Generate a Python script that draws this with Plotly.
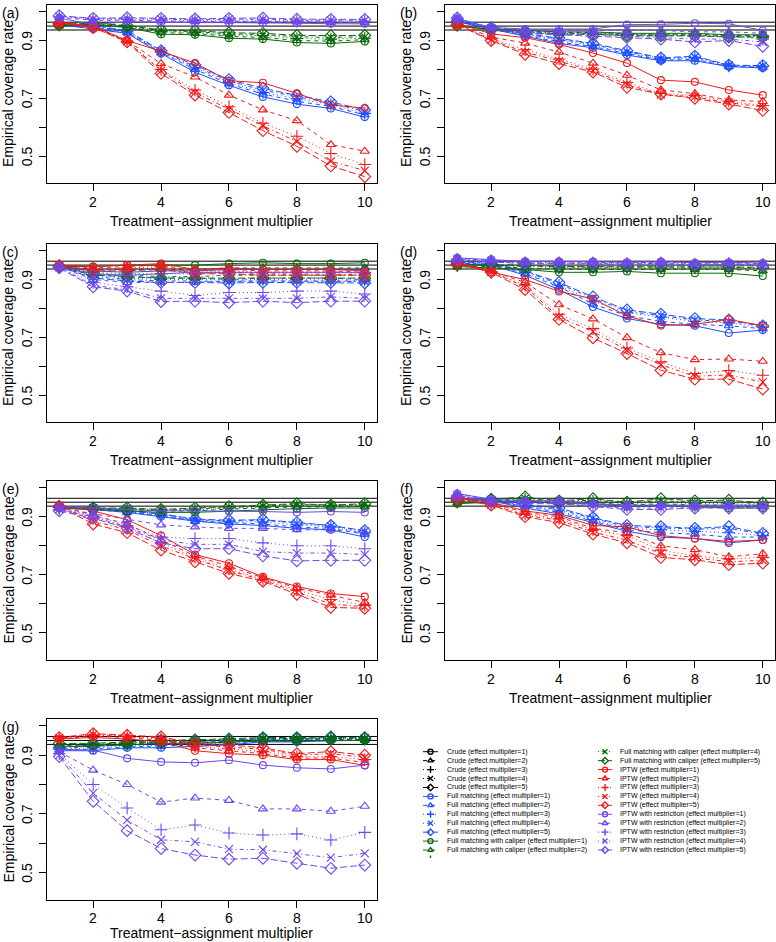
import plotly.graph_objects as go

W, H = 776, 942
X = [1, 2, 3, 4, 5, 6, 7, 8, 9, 10]
PANEL_LABELS = ["(a)", "(b)", "(c)", "(d)", "(e)", "(f)", "(g)"]
METHODS = ["Crude", "Full matching", "Full matching with caliper", "IPTW", "IPTW with restriction"]
MULTIPLIERS = [1, 2, 3, 4, 5]
REF_LINES = [0.9365, 0.95, 0.9635]
X_TICKS = [2, 4, 6, 8, 10]
Y_TICKS = [0.5, 0.6, 0.7, 0.8, 0.9, 1.0]
Y_LABELLED = [0.5, 0.7, 0.9]
X_TITLE = "Treatment\u2212assignment multiplier"
Y_TITLE = "Empirical coverage rate"

# Crude coverage lies below the plotted y range in every panel (not visible).

# ---------------- panel (a) ----------------
A_FM = [[0.955, 0.94, 0.925, 0.855, 0.79, 0.745, 0.705, 0.68, 0.665, 0.635],
        [0.955, 0.946, 0.928, 0.858, 0.80, 0.75, 0.715, 0.69, 0.672, 0.643],
        [0.957, 0.948, 0.93, 0.86, 0.805, 0.755, 0.72, 0.698, 0.678, 0.648],
        [0.958, 0.95, 0.932, 0.863, 0.81, 0.76, 0.728, 0.705, 0.684, 0.654],
        [0.96, 0.952, 0.935, 0.865, 0.815, 0.765, 0.735, 0.71, 0.688, 0.66]]
A_FMC = [[0.95, 0.955, 0.945, 0.922, 0.92, 0.908, 0.905, 0.893, 0.89, 0.897],
         [0.952, 0.956, 0.946, 0.927, 0.925, 0.914, 0.911, 0.90, 0.898, 0.903],
         [0.953, 0.957, 0.948, 0.931, 0.928, 0.919, 0.917, 0.907, 0.905, 0.908],
         [0.955, 0.958, 0.95, 0.934, 0.931, 0.923, 0.921, 0.913, 0.911, 0.913],
         [0.956, 0.96, 0.952, 0.937, 0.934, 0.927, 0.925, 0.918, 0.917, 0.918]]
A_IPTW = [[0.963, 0.95, 0.90, 0.863, 0.822, 0.761, 0.754, 0.717, 0.677, 0.666],
          [0.962, 0.948, 0.90, 0.82, 0.774, 0.711, 0.66, 0.623, 0.54, 0.517],
          [0.962, 0.947, 0.898, 0.80, 0.729, 0.671, 0.614, 0.569, 0.509, 0.471],
          [0.961, 0.946, 0.897, 0.795, 0.72, 0.662, 0.605, 0.55, 0.482, 0.45],
          [0.96, 0.945, 0.895, 0.786, 0.711, 0.651, 0.588, 0.534, 0.466, 0.429]]
A_IPTWR = [[0.978, 0.955, 0.965, 0.963, 0.962, 0.962, 0.962, 0.96, 0.958, 0.958],
           [0.98, 0.97, 0.97, 0.968, 0.966, 0.967, 0.966, 0.964, 0.963, 0.963],
           [0.982, 0.973, 0.973, 0.971, 0.969, 0.971, 0.97, 0.968, 0.967, 0.967],
           [0.984, 0.975, 0.976, 0.974, 0.972, 0.974, 0.974, 0.971, 0.97, 0.97],
           [0.986, 0.977, 0.979, 0.977, 0.975, 0.977, 0.978, 0.974, 0.973, 0.973]]

# ---------------- panel (b) ----------------
B_FM = [[0.965, 0.94, 0.915, 0.89, 0.875, 0.85, 0.83, 0.83, 0.81, 0.805],
        [0.966, 0.941, 0.918, 0.895, 0.879, 0.855, 0.832, 0.835, 0.81, 0.808],
        [0.966, 0.942, 0.92, 0.90, 0.883, 0.858, 0.835, 0.84, 0.812, 0.81],
        [0.967, 0.943, 0.922, 0.905, 0.887, 0.862, 0.837, 0.843, 0.814, 0.812],
        [0.968, 0.945, 0.925, 0.908, 0.89, 0.865, 0.84, 0.846, 0.815, 0.813]]
B_FMC = [[0.95, 0.94, 0.935, 0.93, 0.93, 0.925, 0.925, 0.925, 0.92, 0.92],
         [0.951, 0.939, 0.933, 0.928, 0.928, 0.923, 0.922, 0.922, 0.918, 0.918],
         [0.952, 0.938, 0.931, 0.926, 0.926, 0.921, 0.92, 0.92, 0.916, 0.916],
         [0.953, 0.937, 0.929, 0.924, 0.924, 0.919, 0.918, 0.918, 0.914, 0.914],
         [0.954, 0.936, 0.927, 0.922, 0.922, 0.917, 0.916, 0.916, 0.912, 0.912]]
B_IPTW = [[0.96, 0.923, 0.91, 0.886, 0.857, 0.822, 0.763, 0.757, 0.729, 0.711],
          [0.958, 0.912, 0.891, 0.86, 0.822, 0.78, 0.729, 0.716, 0.694, 0.689],
          [0.957, 0.906, 0.868, 0.836, 0.801, 0.755, 0.717, 0.71, 0.69, 0.675],
          [0.956, 0.902, 0.86, 0.829, 0.795, 0.748, 0.713, 0.705, 0.685, 0.67],
          [0.955, 0.90, 0.852, 0.82, 0.791, 0.738, 0.715, 0.70, 0.68, 0.658]]
B_IPTWR = [[0.975, 0.945, 0.94, 0.94, 0.94, 0.955, 0.956, 0.96, 0.958, 0.935],
           [0.976, 0.945, 0.936, 0.935, 0.935, 0.936, 0.935, 0.93, 0.93, 0.925],
           [0.976, 0.943, 0.931, 0.93, 0.926, 0.925, 0.92, 0.915, 0.915, 0.905],
           [0.977, 0.942, 0.928, 0.925, 0.92, 0.915, 0.91, 0.905, 0.905, 0.895],
           [0.978, 0.94, 0.925, 0.92, 0.915, 0.91, 0.905, 0.895, 0.90, 0.88]]

# ---------------- panel (c) ----------------
C_FM = [[0.945, 0.93, 0.925, 0.93, 0.93, 0.935, 0.935, 0.935, 0.935, 0.935],
        [0.945, 0.92, 0.91, 0.905, 0.905, 0.90, 0.905, 0.905, 0.905, 0.90],
        [0.945, 0.915, 0.905, 0.90, 0.90, 0.898, 0.90, 0.90, 0.90, 0.898],
        [0.945, 0.91, 0.90, 0.895, 0.895, 0.893, 0.895, 0.895, 0.895, 0.893],
        [0.945, 0.905, 0.895, 0.89, 0.89, 0.888, 0.89, 0.89, 0.89, 0.888]]
C_FMC = [[0.945, 0.945, 0.95, 0.95, 0.95, 0.955, 0.958, 0.955, 0.955, 0.958],
         [0.945, 0.935, 0.935, 0.935, 0.935, 0.94, 0.94, 0.94, 0.94, 0.94],
         [0.945, 0.925, 0.92, 0.92, 0.92, 0.925, 0.925, 0.925, 0.925, 0.925],
         [0.945, 0.92, 0.915, 0.91, 0.91, 0.915, 0.915, 0.915, 0.915, 0.915],
         [0.945, 0.915, 0.91, 0.905, 0.905, 0.905, 0.905, 0.905, 0.905, 0.905]]
C_IPTW = [[0.95, 0.945, 0.95, 0.955, 0.935, 0.94, 0.935, 0.935, 0.935, 0.93],
          [0.95, 0.94, 0.945, 0.95, 0.93, 0.935, 0.93, 0.93, 0.93, 0.925],
          [0.948, 0.935, 0.94, 0.945, 0.925, 0.93, 0.925, 0.925, 0.925, 0.922],
          [0.948, 0.932, 0.935, 0.94, 0.922, 0.925, 0.92, 0.92, 0.92, 0.918],
          [0.948, 0.93, 0.93, 0.935, 0.92, 0.92, 0.915, 0.915, 0.915, 0.915]]
C_IPTWR = [[0.945, 0.92, 0.915, 0.92, 0.925, 0.925, 0.925, 0.925, 0.925, 0.925],
           [0.945, 0.90, 0.89, 0.89, 0.89, 0.895, 0.895, 0.895, 0.895, 0.895],
           [0.943, 0.89, 0.875, 0.86, 0.845, 0.855, 0.855, 0.86, 0.86, 0.85],
           [0.942, 0.88, 0.865, 0.835, 0.835, 0.835, 0.835, 0.835, 0.84, 0.835],
           [0.94, 0.875, 0.86, 0.824, 0.825, 0.82, 0.825, 0.82, 0.825, 0.825]]

# ---------------- panel (d) ----------------
D_FM = [[0.955, 0.95, 0.915, 0.865, 0.805, 0.765, 0.745, 0.74, 0.715, 0.725],
        [0.957, 0.952, 0.92, 0.875, 0.815, 0.775, 0.755, 0.745, 0.74, 0.73],
        [0.958, 0.953, 0.925, 0.88, 0.825, 0.785, 0.77, 0.755, 0.75, 0.735],
        [0.96, 0.955, 0.928, 0.885, 0.835, 0.79, 0.775, 0.76, 0.755, 0.74],
        [0.962, 0.956, 0.93, 0.89, 0.84, 0.795, 0.78, 0.765, 0.76, 0.74]]
D_FMC = [[0.945, 0.94, 0.935, 0.925, 0.925, 0.928, 0.922, 0.922, 0.922, 0.912],
         [0.945, 0.945, 0.94, 0.935, 0.935, 0.935, 0.935, 0.935, 0.935, 0.93],
         [0.948, 0.948, 0.945, 0.94, 0.94, 0.94, 0.94, 0.94, 0.94, 0.938],
         [0.95, 0.95, 0.948, 0.943, 0.943, 0.943, 0.943, 0.943, 0.943, 0.94],
         [0.952, 0.952, 0.95, 0.945, 0.945, 0.945, 0.945, 0.945, 0.945, 0.943]]
D_IPTW = [[0.96, 0.925, 0.90, 0.859, 0.833, 0.774, 0.741, 0.745, 0.762, 0.74],
          [0.96, 0.93, 0.89, 0.813, 0.764, 0.699, 0.647, 0.623, 0.625, 0.617],
          [0.958, 0.928, 0.88, 0.78, 0.73, 0.663, 0.615, 0.575, 0.585, 0.569],
          [0.957, 0.927, 0.875, 0.77, 0.72, 0.655, 0.605, 0.565, 0.57, 0.545],
          [0.955, 0.925, 0.865, 0.762, 0.698, 0.644, 0.586, 0.555, 0.555, 0.521]]
D_IPTWR = [[0.975, 0.97, 0.963, 0.963, 0.962, 0.96, 0.962, 0.958, 0.96, 0.957],
           [0.973, 0.968, 0.961, 0.961, 0.96, 0.958, 0.96, 0.956, 0.958, 0.955],
           [0.971, 0.966, 0.959, 0.959, 0.958, 0.956, 0.958, 0.954, 0.956, 0.953],
           [0.969, 0.964, 0.957, 0.957, 0.956, 0.954, 0.956, 0.952, 0.954, 0.951],
           [0.967, 0.962, 0.955, 0.955, 0.954, 0.952, 0.954, 0.95, 0.952, 0.949]]

# ---------------- panel (e) ----------------
E_FM = [[0.93, 0.925, 0.915, 0.90, 0.885, 0.875, 0.87, 0.86, 0.855, 0.83],
        [0.93, 0.925, 0.915, 0.905, 0.885, 0.88, 0.875, 0.865, 0.86, 0.84],
        [0.932, 0.927, 0.918, 0.905, 0.888, 0.883, 0.882, 0.872, 0.865, 0.845],
        [0.935, 0.93, 0.92, 0.91, 0.89, 0.885, 0.888, 0.877, 0.868, 0.85],
        [0.935, 0.93, 0.92, 0.91, 0.892, 0.888, 0.89, 0.88, 0.87, 0.852]]
E_FMC = [[0.93, 0.925, 0.92, 0.915, 0.915, 0.92, 0.925, 0.928, 0.93, 0.93],
         [0.932, 0.927, 0.924, 0.92, 0.92, 0.926, 0.93, 0.934, 0.934, 0.935],
         [0.933, 0.928, 0.926, 0.922, 0.924, 0.93, 0.934, 0.938, 0.937, 0.939],
         [0.934, 0.929, 0.928, 0.923, 0.927, 0.933, 0.937, 0.942, 0.939, 0.942],
         [0.935, 0.93, 0.93, 0.925, 0.93, 0.935, 0.94, 0.945, 0.94, 0.945]]
E_IPTW = [[0.94, 0.92, 0.89, 0.835, 0.77, 0.74, 0.693, 0.66, 0.636, 0.625],
          [0.938, 0.905, 0.875, 0.82, 0.765, 0.73, 0.69, 0.655, 0.63, 0.605],
          [0.937, 0.895, 0.865, 0.81, 0.76, 0.72, 0.685, 0.648, 0.615, 0.595],
          [0.935, 0.885, 0.855, 0.80, 0.755, 0.715, 0.682, 0.64, 0.60, 0.59],
          [0.935, 0.875, 0.845, 0.785, 0.745, 0.705, 0.678, 0.633, 0.588, 0.585]]
E_IPTWR = [[0.935, 0.93, 0.925, 0.92, 0.92, 0.92, 0.918, 0.915, 0.918, 0.915],
           [0.93, 0.91, 0.89, 0.872, 0.865, 0.86, 0.86, 0.855, 0.855, 0.845],
           [0.925, 0.905, 0.87, 0.83, 0.825, 0.825, 0.81, 0.80, 0.80, 0.79],
           [0.925, 0.90, 0.865, 0.82, 0.805, 0.805, 0.78, 0.775, 0.775, 0.77],
           [0.92, 0.895, 0.86, 0.81, 0.79, 0.79, 0.765, 0.748, 0.75, 0.75]]

# ---------------- panel (f) ----------------
F_FM = [[0.96, 0.955, 0.93, 0.91, 0.88, 0.85, 0.83, 0.825, 0.81, 0.82],
        [0.962, 0.955, 0.935, 0.915, 0.885, 0.855, 0.845, 0.84, 0.83, 0.83],
        [0.963, 0.957, 0.937, 0.92, 0.89, 0.86, 0.855, 0.85, 0.845, 0.835],
        [0.965, 0.958, 0.94, 0.925, 0.895, 0.865, 0.862, 0.857, 0.86, 0.84],
        [0.967, 0.96, 0.942, 0.93, 0.897, 0.87, 0.866, 0.86, 0.866, 0.843]]
F_FMC = [[0.945, 0.95, 0.955, 0.945, 0.945, 0.935, 0.94, 0.935, 0.93, 0.93],
         [0.948, 0.952, 0.958, 0.948, 0.95, 0.94, 0.945, 0.94, 0.94, 0.935],
         [0.95, 0.955, 0.96, 0.95, 0.953, 0.945, 0.95, 0.945, 0.945, 0.94],
         [0.952, 0.957, 0.963, 0.953, 0.957, 0.948, 0.955, 0.95, 0.95, 0.945],
         [0.955, 0.96, 0.968, 0.955, 0.962, 0.95, 0.962, 0.955, 0.957, 0.948]]
F_IPTW = [[0.965, 0.95, 0.92, 0.905, 0.87, 0.865, 0.835, 0.825, 0.815, 0.82],
          [0.965, 0.948, 0.915, 0.90, 0.86, 0.845, 0.80, 0.787, 0.762, 0.773],
          [0.963, 0.945, 0.91, 0.893, 0.855, 0.835, 0.785, 0.765, 0.755, 0.76],
          [0.962, 0.942, 0.905, 0.888, 0.847, 0.82, 0.773, 0.76, 0.745, 0.75],
          [0.96, 0.94, 0.90, 0.88, 0.84, 0.81, 0.76, 0.752, 0.735, 0.74]]
F_IPTWR = [[0.98, 0.96, 0.955, 0.955, 0.945, 0.94, 0.94, 0.94, 0.94, 0.94],
           [0.978, 0.958, 0.953, 0.953, 0.943, 0.938, 0.938, 0.938, 0.938, 0.938],
           [0.975, 0.955, 0.95, 0.95, 0.94, 0.935, 0.935, 0.935, 0.935, 0.935],
           [0.973, 0.953, 0.948, 0.948, 0.938, 0.93, 0.93, 0.932, 0.932, 0.932],
           [0.97, 0.95, 0.945, 0.945, 0.935, 0.925, 0.925, 0.93, 0.93, 0.93]]

# ---------------- panel (g) ----------------
G_FM = [[0.915, 0.915, 0.925, 0.925, 0.93, 0.935, 0.945, 0.945, 0.95, 0.95],
        [0.918, 0.92, 0.928, 0.93, 0.934, 0.938, 0.947, 0.948, 0.952, 0.952],
        [0.92, 0.925, 0.932, 0.935, 0.938, 0.942, 0.95, 0.95, 0.954, 0.954],
        [0.922, 0.93, 0.935, 0.94, 0.942, 0.946, 0.953, 0.953, 0.957, 0.956],
        [0.925, 0.935, 0.94, 0.945, 0.946, 0.95, 0.956, 0.956, 0.96, 0.958]]
G_FMC = [[0.93, 0.93, 0.935, 0.94, 0.94, 0.945, 0.948, 0.948, 0.95, 0.95],
         [0.932, 0.932, 0.937, 0.942, 0.943, 0.947, 0.951, 0.951, 0.953, 0.952],
         [0.935, 0.935, 0.94, 0.945, 0.946, 0.95, 0.954, 0.954, 0.956, 0.955],
         [0.937, 0.937, 0.942, 0.947, 0.949, 0.952, 0.957, 0.957, 0.959, 0.957],
         [0.94, 0.94, 0.945, 0.95, 0.952, 0.955, 0.96, 0.96, 0.962, 0.96]]
G_IPTW = [[0.955, 0.96, 0.955, 0.945, 0.915, 0.905, 0.90, 0.885, 0.885, 0.865],
          [0.955, 0.965, 0.96, 0.95, 0.925, 0.915, 0.905, 0.89, 0.89, 0.875],
          [0.957, 0.968, 0.963, 0.955, 0.93, 0.922, 0.912, 0.895, 0.895, 0.885],
          [0.958, 0.97, 0.965, 0.958, 0.935, 0.928, 0.92, 0.90, 0.905, 0.892],
          [0.96, 0.973, 0.968, 0.962, 0.94, 0.935, 0.925, 0.905, 0.912, 0.90]]
G_IPTWR = [[0.92, 0.917, 0.889, 0.877, 0.874, 0.883, 0.866, 0.857, 0.853, 0.866],
           [0.912, 0.849, 0.80, 0.74, 0.754, 0.746, 0.717, 0.717, 0.709, 0.726],
           [0.905, 0.80, 0.72, 0.646, 0.662, 0.635, 0.628, 0.632, 0.611, 0.637],
           [0.90, 0.771, 0.679, 0.612, 0.605, 0.58, 0.578, 0.565, 0.551, 0.566],
           [0.895, 0.743, 0.643, 0.582, 0.56, 0.546, 0.549, 0.532, 0.515, 0.526]]

PANEL_DATA = [
    {"Full matching": A_FM, "Full matching with caliper": A_FMC, "IPTW": A_IPTW, "IPTW with restriction": A_IPTWR},
    {"Full matching": B_FM, "Full matching with caliper": B_FMC, "IPTW": B_IPTW, "IPTW with restriction": B_IPTWR},
    {"Full matching": C_FM, "Full matching with caliper": C_FMC, "IPTW": C_IPTW, "IPTW with restriction": C_IPTWR},
    {"Full matching": D_FM, "Full matching with caliper": D_FMC, "IPTW": D_IPTW, "IPTW with restriction": D_IPTWR},
    {"Full matching": E_FM, "Full matching with caliper": E_FMC, "IPTW": E_IPTW, "IPTW with restriction": E_IPTWR},
    {"Full matching": F_FM, "Full matching with caliper": F_FMC, "IPTW": F_IPTW, "IPTW with restriction": F_IPTWR},
    {"Full matching": G_FM, "Full matching with caliper": G_FMC, "IPTW": G_IPTW, "IPTW with restriction": G_IPTWR},
]

# ---------------- styling ----------------
COLORS = {"Crude": "#000000", "Full matching": "#1f4fff", "Full matching with caliper": "#0a6a0a",
          "IPTW": "#f21a1a", "IPTW with restriction": "#6f48ee"}
SYMBOLS = ["circle-open", "triangle-up-open", "cross-thin-open", "x-thin-open", "diamond-open"]
SIZES = [7, 8, 9, 8, 9]
DASHES = ["solid", "4px,4px", "1px,3px", "1px,3px,4px,3px", "7px,3px"]
FONT = "Liberation Sans, Arial, Helvetica, sans-serif"

COL_X = [(47, 377), (445, 775)]
ROW_Y = [(5, 183), (244, 422), (481, 660), (719, 900)]
XTICK_GAP = [19, 19, 19, 18]
XTITLE_GAP = [38, 38, 38, 33]
Y_RANGE = [0.407, 1.023]
X_RANGE = [0.64, 10.36]

fig = go.Figure()
layout = dict(width=W, height=H, margin=dict(l=0, r=0, t=0, b=0),
              paper_bgcolor="white", plot_bgcolor="white", showlegend=False,
              font=dict(family=FONT, color="black"))
shapes, annotations = [], []

for i, lab in enumerate(PANEL_LABELS):
    r, c = divmod(i, 2)
    x0, x1 = COL_X[c]
    top, bot = ROW_Y[r]
    k = "" if i == 0 else str(i + 1)
    xa, ya = "x" + k, "y" + k
    layout["xaxis" + k] = dict(domain=[x0 / W, x1 / W], range=X_RANGE, anchor=ya,
                               showline=True, mirror=True, linecolor="black", linewidth=1,
                               ticks="outside", ticklen=7, tickwidth=1, tickcolor="black",
                               tickvals=X_TICKS, showticklabels=False,
                               showgrid=False, zeroline=False)
    layout["yaxis" + k] = dict(domain=[1 - bot / H, 1 - top / H], range=Y_RANGE, anchor=xa,
                               showline=True, mirror=True, linecolor="black", linewidth=1,
                               ticks="outside", ticklen=7, tickwidth=1, tickcolor="black",
                               tickvals=Y_TICKS, showticklabels=False,
                               showgrid=False, zeroline=False)
    # tick labels placed at the axis' own data positions
    for v in X_TICKS:
        annotations.append(dict(text=str(v), xref=xa, yref="paper", x=v,
                                y=1 - (bot + XTICK_GAP[r]) / H, xanchor="center", yanchor="middle",
                                showarrow=False, font=dict(size=14, family=FONT, color="black")))
    for v in Y_LABELLED:
        annotations.append(dict(text=f"{v:.1f}", xref="paper", yref=ya, x=(x0 - 20) / W, y=v,
                                xanchor="center", yanchor="middle", textangle=-90,
                                showarrow=False, font=dict(size=14, family=FONT, color="black")))
    for v in REF_LINES:
        shapes.append(dict(type="line", xref=xa + " domain", yref=ya, x0=0, x1=1, y0=v, y1=v,
                           line=dict(color="black", width=1), layer="below"))
    data = PANEL_DATA[i]
    for m in METHODS[1:]:
        for j, mult in enumerate(MULTIPLIERS):
            col = COLORS[m]
            fig.add_trace(go.Scatter(
                x=X, y=data[m][j], xaxis=xa, yaxis=ya, mode="lines+markers",
                name=f"{m} (effect multiplier={mult})", cliponaxis=True,
                line=dict(color=col, width=1, dash=DASHES[j]),
                marker=dict(symbol=SYMBOLS[j], size=SIZES[j], color=col,
                            line=dict(color=col, width=1.1))))
    # panel label and axis titles
    annotations.append(dict(text=lab, xref="paper", yref="paper", x=(x0 - 47) / W,
                            y=1 - (top + 8) / H, xanchor="left", yanchor="middle",
                            showarrow=False, font=dict(size=14, family=FONT)))
    annotations.append(dict(text=X_TITLE, xref="paper", yref="paper", x=(x0 + x1) / 2 / W,
                            y=1 - (bot + XTITLE_GAP[r]) / H, xanchor="center", yanchor="middle",
                            showarrow=False, font=dict(size=14, family=FONT)))
    annotations.append(dict(text=Y_TITLE, xref="paper", yref="paper", x=(x0 - 39) / W,
                            y=1 - (top + bot) / 2 / H, xanchor="center", yanchor="middle",
                            textangle=-90, showarrow=False, font=dict(size=14, family=FONT)))

# ---------------- manual two-column legend (pixel axis) ----------------
LEG_X0, LEG_X1, LEG_Y0, LEG_Y1 = 418, 776, 744, 858
layout["xaxis8"] = dict(domain=[LEG_X0 / W, LEG_X1 / W], range=[LEG_X0, LEG_X1], visible=False,
                        anchor="y8", fixedrange=True)
layout["yaxis8"] = dict(domain=[1 - LEG_Y1 / H, 1 - LEG_Y0 / H], range=[LEG_Y1, LEG_Y0],
                        visible=False, anchor="x8", fixedrange=True)
entries = [(m, j) for m in METHODS for j in range(5)]
SEG = [(423, 438, 445), (598, 612, 618)]
for n, (m, j) in enumerate(entries):
    ccol, row = (0, n) if n < 13 else (1, n - 13)
    sx0, sx1, tx = SEG[ccol]
    yy = 751.7 + row * 8.94
    col = COLORS[m]
    fig.add_trace(go.Scatter(x=[sx0, sx1], y=[yy, yy], xaxis="x8", yaxis="y8", mode="lines",
                             line=dict(color=col, width=1, dash=DASHES[j]), hoverinfo="skip"))
    fig.add_trace(go.Scatter(x=[(sx0 + sx1) / 2], y=[yy], xaxis="x8", yaxis="y8", mode="markers",
                             marker=dict(symbol=SYMBOLS[j], size=5, color=col,
                                         line=dict(color=col, width=1.4)), hoverinfo="skip"))
    annotations.append(dict(text=f"{m} (effect multiplier={MULTIPLIERS[j]})", xref="x8", yref="y8",
                            x=tx, y=yy, xanchor="left", yanchor="middle", showarrow=False,
                            font=dict(size=7, family=FONT, color="black")))

layout["shapes"] = shapes
layout["annotations"] = annotations
fig.update_layout(**layout)
fig.write_html("out.html", config=dict(displayModeBar=False),
               post_script="document.body.style.margin='0';document.body.style.overflow='hidden';")
